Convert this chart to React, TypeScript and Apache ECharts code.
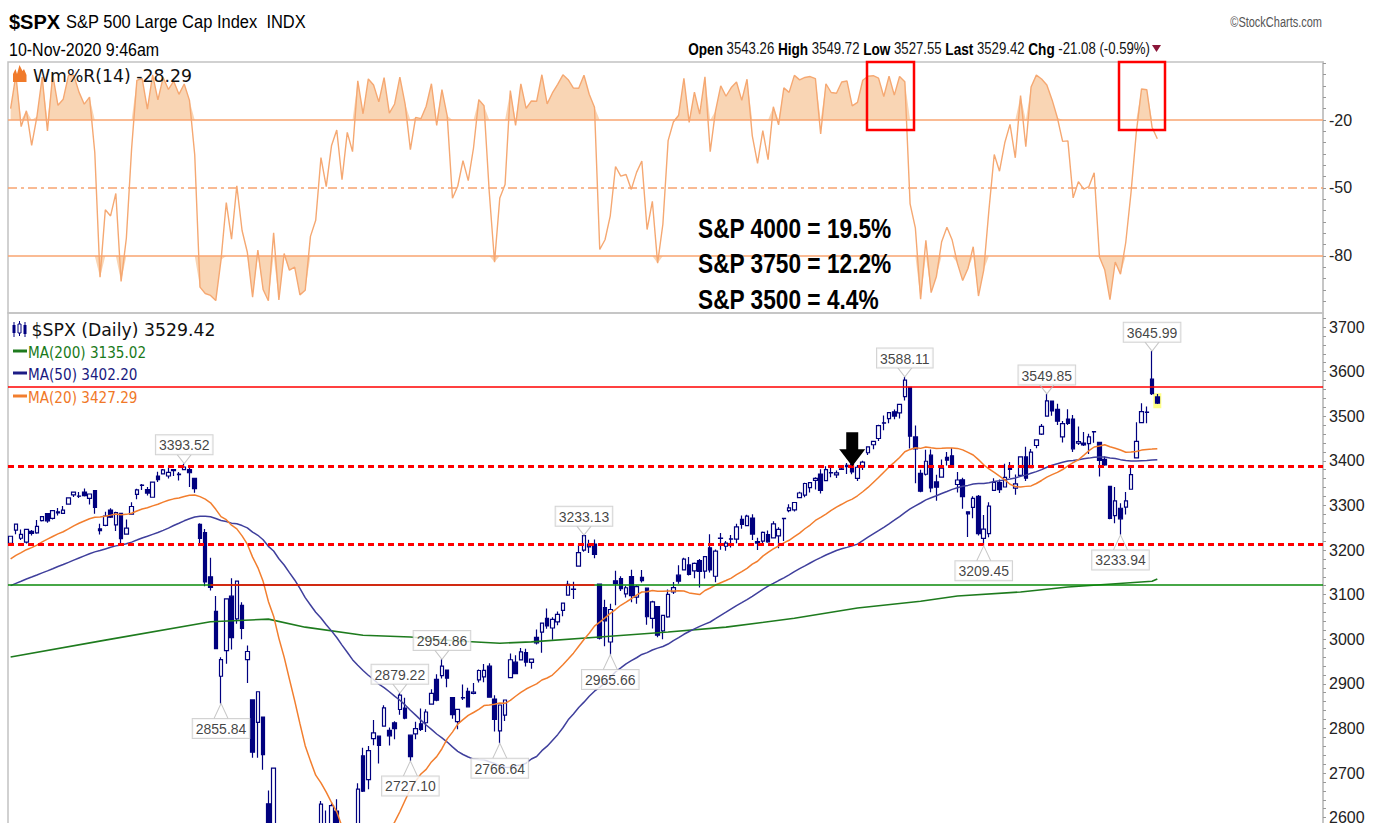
import React, { useEffect, useRef } from "react";
import * as echarts from "echarts";

// ---------- DATA ----------
// closes before the first plotted bar (2019-10-18 .. 2019-12-30), used for MA(20)/MA(50)
const preCloses = [
  2986.2, 3006.72, 2995.99, 3004.52, 3010.29, 3022.55, 3039.42, 3036.89, 3046.77, 3037.56,
  3066.91, 3078.27, 3074.62, 3076.78, 3085.18, 3093.08, 3087.01, 3091.84, 3094.04, 3096.63,
  3120.46, 3122.03, 3120.18, 3108.46, 3103.54, 3110.29, 3133.64, 3140.52, 3153.63, 3140.98,
  3113.87, 3093.2, 3112.76, 3117.43, 3145.91, 3135.96, 3132.52, 3141.63, 3168.57, 3168.8,
  3191.45, 3192.52, 3191.14, 3205.37, 3221.22, 3224.01, 3223.38, 3239.91, 3240.02, 3221.29,
];
// highs / lows of 2019-12-11 .. 2019-12-30, used for Williams %R(14)
const preHighs = [3143.98, 3176.28, 3182.68, 3197.71, 3198.22, 3198.48, 3205.48, 3225.65, 3227.78, 3226.43, 3240.08, 3247.93, 3240.92];
const preLows = [3133.21, 3138.47, 3156.51, 3183.63, 3191.03, 3191.14, 3192.32, 3216.03, 3222.3, 3220.51, 3227.2, 3234.37, 3216.57];

// [date, open, high, low, close]
const dec2019 = [["2019-12-31", 3215.18, 3231.72, 3212.03, 3230.78]];
const jan2020 = [
  ["2020-01-02", 3244.67, 3258.14, 3235.53, 3257.85],
  ["2020-01-03", 3226.36, 3246.15, 3222.34, 3234.85],
  ["2020-01-06", 3217.55, 3246.84, 3214.64, 3246.28],
  ["2020-01-07", 3241.86, 3244.91, 3232.43, 3237.18],
  ["2020-01-08", 3238.59, 3267.07, 3236.67, 3253.05],
  ["2020-01-09", 3266.03, 3275.58, 3263.67, 3274.7],
  ["2020-01-10", 3281.81, 3282.99, 3260.86, 3265.35],
  ["2020-01-13", 3271.13, 3288.13, 3268.43, 3288.13],
  ["2020-01-14", 3285.35, 3294.25, 3277.19, 3283.15],
  ["2020-01-15", 3282.27, 3298.66, 3280.69, 3289.29],
  ["2020-01-16", 3302.97, 3317.11, 3302.82, 3316.81],
  ["2020-01-17", 3323.66, 3329.88, 3318.86, 3329.62],
  ["2020-01-21", 3321.03, 3329.79, 3316.61, 3320.79],
  ["2020-01-22", 3330.02, 3337.77, 3320.04, 3321.75],
  ["2020-01-23", 3315.77, 3326.88, 3301.87, 3325.54],
  ["2020-01-24", 3333.1, 3333.18, 3281.53, 3295.47],
  ["2020-01-27", 3247.16, 3258.85, 3234.5, 3243.63],
  ["2020-01-28", 3255.35, 3285.78, 3253.22, 3276.24],
  ["2020-01-29", 3289.46, 3293.47, 3271.89, 3273.4],
  ["2020-01-30", 3256.45, 3285.91, 3242.8, 3283.66],
  ["2020-01-31", 3282.33, 3282.33, 3214.68, 3225.52],
];
const feb2020 = [
  ["2020-02-03", 3235.66, 3268.44, 3235.66, 3248.92],
  ["2020-02-04", 3280.61, 3306.92, 3280.61, 3297.59],
  ["2020-02-05", 3324.91, 3337.58, 3313.75, 3334.69],
  ["2020-02-06", 3344.92, 3347.96, 3334.39, 3345.78],
  ["2020-02-07", 3335.54, 3341.42, 3322.12, 3327.71],
  ["2020-02-10", 3318.28, 3352.26, 3317.77, 3352.09],
  ["2020-02-11", 3365.87, 3375.63, 3352.72, 3357.75],
  ["2020-02-12", 3370.5, 3381.47, 3369.72, 3379.45],
  ["2020-02-13", 3365.9, 3385.09, 3360.52, 3373.94],
  ["2020-02-14", 3378.08, 3380.69, 3366.15, 3380.16],
  ["2020-02-18", 3369.04, 3375.01, 3355.61, 3370.29],
  ["2020-02-19", 3380.39, 3393.52, 3378.83, 3386.15],
  ["2020-02-20", 3380.45, 3389.15, 3341.02, 3373.23],
  ["2020-02-21", 3360.5, 3360.76, 3328.45, 3337.75],
  ["2020-02-24", 3257.61, 3259.81, 3214.65, 3225.89],
  ["2020-02-25", 3238.94, 3246.99, 3118.77, 3128.21],
  ["2020-02-26", 3139.9, 3182.51, 3108.99, 3116.39],
  ["2020-02-27", 3062.54, 3097.07, 2977.39, 2978.76],
  ["2020-02-28", 2916.9, 2959.72, 2855.84, 2954.22],
];
const mar2020 = [
  ["2020-03-02", 2974.28, 3090.96, 2945.19, 3090.23],
  ["2020-03-03", 3096.46, 3136.72, 2976.63, 3003.37],
  ["2020-03-04", 3045.75, 3130.97, 3034.38, 3130.12],
  ["2020-03-05", 3075.7, 3083.04, 2999.83, 3023.94],
  ["2020-03-06", 2954.2, 2985.93, 2901.54, 2972.37],
  ["2020-03-09", 2863.89, 2863.89, 2734.43, 2746.56],
  ["2020-03-10", 2813.48, 2882.59, 2734.0, 2882.23],
  ["2020-03-11", 2825.6, 2825.6, 2707.22, 2741.38],
  ["2020-03-12", 2630.86, 2660.95, 2478.86, 2480.64],
  ["2020-03-13", 2569.99, 2711.33, 2492.37, 2711.02],
  ["2020-03-16", 2508.59, 2562.98, 2380.94, 2386.13],
  ["2020-03-17", 2425.66, 2553.93, 2367.04, 2529.19],
  ["2020-03-18", 2436.5, 2453.57, 2280.52, 2398.1],
  ["2020-03-19", 2393.48, 2466.97, 2319.78, 2409.39],
  ["2020-03-20", 2431.94, 2453.01, 2295.56, 2304.92],
  ["2020-03-23", 2290.71, 2300.73, 2191.86, 2237.4],
  ["2020-03-24", 2344.44, 2449.71, 2344.44, 2447.33],
  ["2020-03-25", 2457.77, 2571.42, 2407.53, 2475.56],
  ["2020-03-26", 2501.29, 2637.01, 2500.72, 2630.07],
  ["2020-03-27", 2555.87, 2615.91, 2520.02, 2541.47],
  ["2020-03-30", 2558.98, 2631.8, 2545.28, 2626.65],
  ["2020-03-31", 2614.69, 2641.39, 2571.15, 2584.59],
];
const apr2020 = [
  ["2020-04-01", 2498.08, 2522.75, 2447.49, 2470.5],
  ["2020-04-02", 2458.54, 2533.22, 2455.79, 2526.9],
  ["2020-04-03", 2514.92, 2538.18, 2459.96, 2488.65],
  ["2020-04-06", 2578.28, 2676.85, 2574.57, 2663.68],
  ["2020-04-07", 2738.65, 2756.89, 2657.67, 2659.41],
  ["2020-04-08", 2685.0, 2760.75, 2663.3, 2749.98],
  ["2020-04-09", 2776.99, 2818.57, 2762.36, 2789.82],
  ["2020-04-13", 2782.46, 2782.46, 2721.17, 2761.63],
  ["2020-04-14", 2805.1, 2851.85, 2805.1, 2846.06],
  ["2020-04-15", 2795.64, 2801.88, 2761.54, 2783.36],
  ["2020-04-16", 2812.64, 2815.83, 2775.95, 2799.55],
  ["2020-04-17", 2842.43, 2879.22, 2830.88, 2874.56],
  ["2020-04-20", 2845.62, 2868.98, 2820.43, 2823.16],
  ["2020-04-21", 2784.81, 2785.54, 2727.1, 2736.56],
  ["2020-04-22", 2787.89, 2815.1, 2775.95, 2799.31],
  ["2020-04-23", 2810.42, 2844.9, 2794.26, 2797.8],
  ["2020-04-24", 2812.64, 2842.71, 2791.76, 2836.74],
  ["2020-04-27", 2854.65, 2887.72, 2852.89, 2878.48],
  ["2020-04-28", 2909.96, 2921.15, 2860.71, 2863.39],
  ["2020-04-29", 2918.46, 2954.86, 2912.16, 2939.51],
  ["2020-04-30", 2930.91, 2930.91, 2892.47, 2912.43],
];
const may2020 = [
  ["2020-05-01", 2869.09, 2869.09, 2821.61, 2830.71],
  ["2020-05-04", 2815.01, 2844.24, 2797.85, 2842.74],
  ["2020-05-05", 2868.88, 2898.23, 2863.55, 2868.44],
  ["2020-05-06", 2883.14, 2891.11, 2847.65, 2848.42],
  ["2020-05-07", 2878.26, 2901.92, 2876.48, 2881.19],
  ["2020-05-08", 2908.83, 2932.16, 2902.88, 2929.8],
  ["2020-05-11", 2915.46, 2944.25, 2903.44, 2930.32],
  ["2020-05-12", 2939.5, 2945.82, 2869.59, 2870.12],
  ["2020-05-13", 2865.86, 2874.14, 2793.15, 2820.0],
  ["2020-05-14", 2794.54, 2852.8, 2766.64, 2852.5],
  ["2020-05-15", 2829.95, 2865.01, 2816.78, 2863.7],
  ["2020-05-18", 2913.86, 2968.09, 2913.86, 2953.91],
  ["2020-05-19", 2948.59, 2964.21, 2922.35, 2922.94],
  ["2020-05-20", 2953.63, 2980.29, 2953.63, 2971.61],
  ["2020-05-21", 2969.95, 2978.5, 2938.57, 2948.51],
  ["2020-05-22", 2948.05, 2956.76, 2933.59, 2955.45],
  ["2020-05-26", 3004.08, 3021.72, 2988.17, 2991.77],
  ["2020-05-27", 3015.65, 3036.25, 2969.75, 3036.13],
  ["2020-05-28", 3046.61, 3068.67, 3023.4, 3029.73],
  ["2020-05-29", 3025.17, 3049.17, 2998.61, 3044.31],
];
const jun2020 = [
  ["2020-06-01", 3038.78, 3062.18, 3031.54, 3055.73],
  ["2020-06-02", 3064.78, 3081.07, 3051.64, 3080.82],
  ["2020-06-03", 3098.9, 3130.94, 3098.9, 3122.87],
  ["2020-06-04", 3111.56, 3128.91, 3090.41, 3112.35],
  ["2020-06-05", 3163.84, 3211.72, 3163.84, 3193.93],
  ["2020-06-08", 3199.92, 3233.13, 3196.0, 3232.39],
  ["2020-06-09", 3213.32, 3222.71, 3193.11, 3207.18],
  ["2020-06-10", 3213.42, 3223.27, 3181.49, 3190.14],
  ["2020-06-11", 3123.53, 3123.53, 2999.49, 3002.1],
  ["2020-06-12", 3071.04, 3088.42, 2984.47, 3041.31],
  ["2020-06-15", 2993.76, 3079.76, 2965.66, 3066.59],
  ["2020-06-16", 3131.0, 3153.45, 3076.06, 3124.74],
  ["2020-06-17", 3136.13, 3141.16, 3108.03, 3113.49],
  ["2020-06-18", 3101.64, 3120.0, 3093.51, 3115.34],
  ["2020-06-19", 3140.29, 3155.53, 3083.11, 3097.74],
  ["2020-06-22", 3094.42, 3120.92, 3079.39, 3117.86],
  ["2020-06-23", 3138.7, 3154.9, 3127.12, 3131.29],
  ["2020-06-24", 3114.4, 3115.01, 3032.13, 3050.33],
  ["2020-06-25", 3046.6, 3086.25, 3024.01, 3083.76],
  ["2020-06-26", 3073.2, 3073.73, 3004.63, 3009.05],
  ["2020-06-29", 3018.59, 3053.89, 2999.74, 3053.24],
  ["2020-06-30", 3050.2, 3111.51, 3047.83, 3100.29],
];
const jul2020 = [
  ["2020-07-01", 3105.92, 3128.44, 3101.17, 3115.86],
  ["2020-07-02", 3143.64, 3165.81, 3124.52, 3130.01],
  ["2020-07-06", 3155.29, 3182.59, 3155.29, 3179.72],
  ["2020-07-07", 3166.44, 3184.15, 3142.93, 3145.32],
  ["2020-07-08", 3153.07, 3171.8, 3136.53, 3169.94],
  ["2020-07-09", 3176.17, 3179.78, 3115.7, 3152.05],
  ["2020-07-10", 3152.47, 3186.82, 3136.22, 3185.04],
  ["2020-07-13", 3205.08, 3235.32, 3149.43, 3155.22],
  ["2020-07-14", 3141.11, 3200.95, 3127.66, 3197.52],
  ["2020-07-15", 3225.98, 3238.28, 3200.76, 3226.56],
  ["2020-07-16", 3208.36, 3220.39, 3198.59, 3215.57],
  ["2020-07-17", 3224.21, 3233.52, 3205.65, 3224.73],
  ["2020-07-20", 3224.29, 3258.61, 3215.16, 3251.84],
  ["2020-07-21", 3268.52, 3277.29, 3247.77, 3257.3],
  ["2020-07-22", 3254.86, 3279.32, 3253.1, 3276.02],
  ["2020-07-23", 3271.64, 3279.99, 3222.66, 3235.66],
  ["2020-07-24", 3218.58, 3227.26, 3200.05, 3215.63],
  ["2020-07-27", 3219.84, 3241.43, 3214.25, 3239.41],
  ["2020-07-28", 3234.27, 3243.72, 3216.17, 3218.44],
  ["2020-07-29", 3227.22, 3264.74, 3227.22, 3258.44],
  ["2020-07-30", 3231.76, 3250.92, 3204.13, 3246.22],
  ["2020-07-31", 3270.45, 3272.17, 3220.26, 3271.12],
];
const aug2020 = [
  ["2020-08-03", 3288.26, 3302.73, 3284.53, 3294.61],
  ["2020-08-04", 3289.92, 3306.84, 3286.37, 3306.51],
  ["2020-08-05", 3317.37, 3330.77, 3317.37, 3327.77],
  ["2020-08-06", 3323.17, 3351.03, 3318.14, 3349.16],
  ["2020-08-07", 3340.05, 3352.54, 3328.72, 3351.28],
  ["2020-08-10", 3356.04, 3363.29, 3335.44, 3360.47],
  ["2020-08-11", 3370.34, 3381.01, 3326.44, 3333.69],
  ["2020-08-12", 3355.46, 3387.89, 3355.46, 3380.35],
  ["2020-08-13", 3372.95, 3387.24, 3363.35, 3373.43],
  ["2020-08-14", 3368.66, 3378.51, 3361.64, 3372.85],
  ["2020-08-17", 3380.86, 3387.59, 3379.22, 3381.99],
  ["2020-08-18", 3387.04, 3395.06, 3370.15, 3389.78],
  ["2020-08-19", 3392.51, 3399.54, 3369.66, 3374.85],
  ["2020-08-20", 3360.48, 3390.8, 3354.69, 3385.51],
  ["2020-08-21", 3386.01, 3399.96, 3379.31, 3397.16],
  ["2020-08-24", 3418.09, 3432.09, 3413.13, 3431.28],
  ["2020-08-25", 3435.95, 3444.21, 3425.84, 3443.62],
  ["2020-08-26", 3449.97, 3481.07, 3444.15, 3478.73],
  ["2020-08-27", 3485.14, 3501.38, 3468.35, 3484.55],
  ["2020-08-28", 3494.69, 3509.23, 3484.32, 3508.01],
  ["2020-08-31", 3509.73, 3514.77, 3493.25, 3500.31],
];
const sep2020 = [
  ["2020-09-01", 3507.44, 3528.03, 3494.6, 3526.65],
  ["2020-09-02", 3543.76, 3588.11, 3535.23, 3580.84],
  ["2020-09-03", 3564.74, 3564.85, 3427.41, 3455.06],
  ["2020-09-04", 3453.6, 3479.15, 3349.63, 3426.96],
  ["2020-09-08", 3371.88, 3379.97, 3329.27, 3331.84],
  ["2020-09-09", 3369.82, 3424.77, 3366.84, 3398.96],
  ["2020-09-10", 3412.56, 3425.55, 3329.25, 3339.19],
  ["2020-09-11", 3352.7, 3368.95, 3310.47, 3340.97],
  ["2020-09-14", 3363.56, 3402.93, 3363.56, 3383.54],
  ["2020-09-15", 3407.73, 3419.48, 3389.25, 3401.2],
  ["2020-09-16", 3411.23, 3428.92, 3384.45, 3385.49],
  ["2020-09-17", 3346.86, 3375.17, 3328.82, 3357.01],
  ["2020-09-18", 3357.38, 3362.27, 3292.4, 3319.47],
  ["2020-09-21", 3285.57, 3285.57, 3229.1, 3281.06],
  ["2020-09-22", 3295.75, 3320.31, 3270.95, 3315.57],
  ["2020-09-23", 3320.11, 3323.35, 3232.57, 3236.92],
  ["2020-09-24", 3226.14, 3278.7, 3209.45, 3246.59],
  ["2020-09-25", 3236.66, 3306.88, 3228.44, 3298.46],
  ["2020-09-28", 3333.9, 3360.74, 3332.91, 3351.6],
  ["2020-09-29", 3350.92, 3357.92, 3327.54, 3335.47],
  ["2020-09-30", 3341.21, 3393.56, 3340.47, 3363.0],
];
const oct2020 = [
  ["2020-10-01", 3385.87, 3397.18, 3361.39, 3380.8],
  ["2020-10-02", 3338.94, 3369.1, 3323.69, 3348.42],
  ["2020-10-05", 3367.27, 3409.57, 3367.27, 3408.6],
  ["2020-10-06", 3408.74, 3431.56, 3354.54, 3360.97],
  ["2020-10-07", 3384.56, 3426.26, 3384.56, 3419.44],
  ["2020-10-08", 3434.28, 3447.28, 3428.15, 3446.83],
  ["2020-10-09", 3459.67, 3482.34, 3458.07, 3477.14],
  ["2020-10-12", 3500.02, 3549.85, 3499.61, 3534.22],
  ["2020-10-13", 3534.01, 3534.01, 3500.86, 3511.93],
  ["2020-10-14", 3515.47, 3527.94, 3480.55, 3488.67],
  ["2020-10-15", 3453.72, 3489.08, 3440.89, 3483.34],
  ["2020-10-16", 3493.5, 3515.76, 3480.45, 3483.81],
  ["2020-10-19", 3493.66, 3502.42, 3419.93, 3426.92],
  ["2020-10-20", 3439.38, 3476.93, 3435.65, 3443.12],
  ["2020-10-21", 3439.91, 3464.86, 3433.06, 3435.56],
  ["2020-10-22", 3438.5, 3460.53, 3415.34, 3453.49],
  ["2020-10-23", 3464.9, 3466.46, 3440.45, 3465.39],
  ["2020-10-26", 3441.42, 3441.42, 3364.86, 3400.97],
  ["2020-10-27", 3403.15, 3409.51, 3388.71, 3390.68],
  ["2020-10-28", 3342.48, 3342.48, 3268.89, 3271.03],
  ["2020-10-29", 3277.17, 3341.05, 3259.82, 3310.11],
  ["2020-10-30", 3293.59, 3304.93, 3233.94, 3269.96],
];
const nov2020 = [
  ["2020-11-02", 3296.2, 3330.14, 3279.74, 3310.24],
  ["2020-11-03", 3336.25, 3389.49, 3336.25, 3369.16],
  ["2020-11-04", 3406.46, 3486.25, 3405.17, 3443.44],
  ["2020-11-05", 3485.74, 3529.05, 3485.74, 3510.45],
  ["2020-11-06", 3508.34, 3521.58, 3484.34, 3509.44],
  ["2020-11-09", 3583.04, 3645.99, 3547.48, 3550.5],
  ["2020-11-10", 3543.26, 3549.72, 3527.55, 3529.42],
];

// MA(200): [bar index, value]
const ma200Points = [
  [0, 2960], [18, 2998], [38, 3039], [49, 3045], [56, 3027], [67, 3009], [76, 3005],
  [85, 2996], [93, 2991], [99, 2994], [112, 3005], [125, 3016], [136, 3027], [149, 3047],
  [161, 3070], [173, 3085], [180, 3097], [192, 3106], [201, 3117], [217, 3130], [218, 3135],
];

// horizontal levels drawn on the price panel
const resistanceLevel = 3565.5;
const dottedLevels = [3388, 3213.5];
const supportLevel = 3121.5;
const supportRedSpan = [38, 111];

// annotated highs / lows (dates)
const highMarks = ["2020-02-19", "2020-04-17", "2020-04-29", "2020-06-08", "2020-09-02", "2020-10-12", "2020-11-09"];
const lowMarks = ["2020-02-28", "2020-04-21", "2020-05-14", "2020-06-15", "2020-09-24", "2020-10-30"];
const arrowDate = "2020-08-19";

// tick labels
const priceTicks = [2600, 2700, 2800, 2900, 3000, 3100, 3200, 3300, 3400, 3500, 3600, 3700];
const wrTicks = [-20, -50, -80];
const wrLevels = [-20, -50, -80];

// texts
const headerSymbol = "$SPX";
const headerName = "S&P 500 Large Cap Index  INDX";
const headerDate = "10-Nov-2020 9:46am";
const headerQuote = [["Open", "3543.26"], ["High", "3549.72"], ["Low", "3527.55"], ["Last", "3529.42"], ["Chg", "-21.08 (-0.59%)"]];
const wrLegend = "Wm%R(14) -28.29";
const spxLegend = "$SPX (Daily) 3529.42";
const maLegends = ["MA(200) 3135.02", "MA(50) 3402.20", "MA(20) 3427.29"];
const notes = ["S&P 4000 = 19.5%", "S&P 3750 = 12.2%", "S&P 3500 = 4.4%"];

// ---------- DERIVED ----------
const rows: any[] = [].concat(dec2019 as any, jan2020, feb2020, mar2020, apr2020, may2020, jun2020, jul2020, aug2020, sep2020, oct2020, nov2020);
const dates = rows.map((r) => r[0]);
const highs = rows.map((r) => r[2]);
const lows = rows.map((r) => r[3]);
const closes = rows.map((r) => r[4]);
const N = rows.length;
const SLOTS = 250;
const cats = dates.concat(Array.from({ length: SLOTS - N }, (_, k) => "pad" + k));

const allCloses = preCloses.concat(closes);
function movingAverage(n: number) {
  return closes.map((_, i) => {
    const j = i + preCloses.length;
    let s = 0;
    for (let k = j - n + 1; k <= j; k++) s += allCloses[k];
    return +(s / n).toFixed(2);
  });
}
const ma20 = movingAverage(20);
const ma50 = movingAverage(50);

const allHighs = preHighs.concat(highs);
const allLows = preLows.concat(lows);
const wr = closes.map((c, i) => {
  const j = i + preHighs.length;
  let hh = -Infinity;
  let ll = Infinity;
  for (let k = j - 13; k <= j; k++) {
    hh = Math.max(hh, allHighs[k]);
    ll = Math.min(ll, allLows[k]);
  }
  return +(((hh - c) / (hh - ll)) * -100).toFixed(2);
});
const hiBase = wr.map(() => -20);
const hiFill = wr.map((v) => Math.max(v + 20, 0));
const loBase = wr.map(() => -80);
const loFill = wr.map((v) => Math.min(v + 80, 0));

const idxOf = (d: string) => dates.indexOf(d);

// ---------- LAYOUT ----------
const PX_LEFT = 8;
const PX_WIDTH = 1315;
const NAVY = "#00007f";
const WR_LINE = "#f5a872";
const WR_FILL = "#f9d5b4";

function txt(x: number, y: number, text: string, o: any = {}) {
  return {
    type: "text",
    x,
    y,
    z: 100,
    scaleY: o.scaleY || 1,
    silent: true,
    style: {
      text,
      fontFamily: o.family || "Liberation Sans",
      fontSize: o.size || 14,
      fontWeight: o.weight || "normal",
      fill: o.color || "#000",
      align: o.align || "left",
      verticalAlign: "middle",
      rich: o.rich,
    },
  };
}

function buildOption() {
  const last = N - 1;
  const quoteText = headerQuote.map(([k, v]) => `{b|${k}} {n|${v}}`).join(" ");
  const graphics: any[] = [
    txt(9, 22, headerSymbol, { size: 20, weight: "bold" }),
    txt(66, 22, headerName, { size: 16.5, scaleY: 1.12 }),
    txt(9, 50, headerDate, { size: 16, scaleY: 1.12 }),
    txt(1150, 48.5, quoteText, {
      size: 13.2,
      align: "right",
      scaleY: 1.22,
      rich: {
        b: { fontWeight: "bold", fontSize: 13.6, fontFamily: "Liberation Sans", fill: "#000" },
        n: { fontSize: 13.2, fontFamily: "Liberation Sans", fill: "#111" },
      },
    }),
    { type: "polygon", z: 100, silent: true, shape: { points: [[1152, 45], [1161, 45], [1156.5, 52]] }, style: { fill: "#8b1538" } },
    txt(1322, 22, "©StockCharts.com", { size: 11, align: "right", color: "#555", scaleY: 1.35 }),
    // %R icon + legend
    {
      type: "polygon", z: 100, silent: true,
      shape: { points: [[13, 82], [13, 74], [15.5, 69], [17, 74], [19.5, 65], [22.5, 71], [24, 69], [26.5, 75], [26.5, 82]] },
      style: { fill: "#f07a2a" },
    },
    txt(33, 76, wrLegend, { family: "DejaVu Sans", size: 17.3, color: "#111" }),
    // notes
    ...notes.map((t, i) => txt(698, 228 + i * 35.5, t, { size: 22.7, weight: "bold", scaleY: 1.22, color: "#000" })),
    // red boxes
    { type: "rect", z: 100, silent: true, shape: { x: 867, y: 62, width: 47, height: 68 }, style: { fill: "none", stroke: "#ff0000", lineWidth: 2.5 } },
    { type: "rect", z: 100, silent: true, shape: { x: 1119, y: 62, width: 46, height: 68 }, style: { fill: "none", stroke: "#ff0000", lineWidth: 2.5 } },
    // price legend icon
    { type: "line", z: 100, silent: true, shape: { x1: 14, y1: 322, x2: 14, y2: 337 }, style: { stroke: NAVY, lineWidth: 1 } },
    { type: "rect", z: 100, silent: true, shape: { x: 12.5, y: 325, width: 3, height: 8 }, style: { fill: NAVY } },
    { type: "line", z: 100, silent: true, shape: { x1: 19.5, y1: 321, x2: 19.5, y2: 336 }, style: { stroke: NAVY, lineWidth: 1 } },
    { type: "rect", z: 100, silent: true, shape: { x: 18, y: 324, width: 3, height: 9 }, style: { fill: "#fff", stroke: NAVY, lineWidth: 1 } },
    { type: "line", z: 100, silent: true, shape: { x1: 25, y1: 322, x2: 25, y2: 337 }, style: { stroke: NAVY, lineWidth: 1 } },
    { type: "rect", z: 100, silent: true, shape: { x: 23.5, y: 325, width: 3, height: 9 }, style: { fill: NAVY } },
    txt(31.5, 329.5, spxLegend, { family: "DejaVu Sans", size: 17.3, color: "#111" }),
  ];
  const maColors = ["#1e7b1e", "#1c1c86", "#f27e2e"];
  const maTextColors = ["#1a7a1a", "#1a1a80", "#f07828"];
  maLegends.forEach((t, i) => {
    const y = [351, 373, 396][i];
    graphics.push({ type: "rect", z: 100, silent: true, shape: { x: 13, y: y - 1.5, width: 14, height: 3 }, style: { fill: maColors[i] } });
    graphics.push(txt(28, y + 1.5, t, { family: "DejaVu Sans", size: 13.6, color: maTextColors[i], scaleY: 1.2 }));
  });

  const labelCommon = {
    show: true,
    distance: 0,
    formatter: (p: any) => Number(p.value[1]).toFixed(2),
    backgroundColor: "#fff",
    borderColor: "#c8c8c8",
    borderWidth: 1,
    padding: [3, 3, 2, 3],
    color: "#111",
    fontFamily: "Liberation Sans",
    fontSize: 14,
  };

  return {
    animation: false,
    backgroundColor: "#ffffff",
    grid: [
      { left: PX_LEFT, top: 62, width: PX_WIDTH, height: 251, show: true, borderColor: "#c2c2c2", borderWidth: 1.5, backgroundColor: "transparent" },
      { left: PX_LEFT, top: 313, width: PX_WIDTH, height: 593.8, show: true, borderColor: "#c2c2c2", borderWidth: 1.5, backgroundColor: "transparent" },
    ],
    xAxis: [
      { type: "category", gridIndex: 0, data: cats, boundaryGap: true, show: false },
      { type: "category", gridIndex: 1, data: cats, boundaryGap: true, show: false },
    ],
    yAxis: [
      {
        type: "value", gridIndex: 0, position: "right", min: -105.15, max: 5.59,
        splitLine: { show: false },
        axisLine: { show: true, lineStyle: { color: "#c2c2c2", width: 1.5 } },
        axisTick: { show: true, length: 3, customValues: Array.from({ length: 22 }, (_, k) => -100 + k * 5), lineStyle: { color: "#999" } },
        axisLabel: { customValues: wrTicks, formatter: (v: number) => String(v), fontFamily: "Liberation Sans", fontSize: 16, color: "#222", margin: 6 },
      },
      {
        type: "value", gridIndex: 1, position: "right", min: 2400, max: 3731.4,
        splitLine: { show: false },
        axisLine: { show: true, lineStyle: { color: "#c2c2c2", width: 1.5 } },
        axisTick: { show: true, length: 3, customValues: Array.from({ length: 57 }, (_, k) => 2600 + k * 20), lineStyle: { color: "#999" } },
        axisLabel: { customValues: priceTicks, formatter: (v: number) => String(v), fontFamily: "Liberation Sans", fontSize: 16, color: "#222", margin: 6 },
      },
    ],
    series: [
      { name: "hiBase", type: "line", xAxisIndex: 0, yAxisIndex: 0, data: hiBase, stack: "hi", stackStrategy: "all", symbol: "none", lineStyle: { opacity: 0 }, silent: true, z: 1 },
      { name: "hiFill", type: "line", xAxisIndex: 0, yAxisIndex: 0, data: hiFill, stack: "hi", stackStrategy: "all", symbol: "none", lineStyle: { opacity: 0 }, areaStyle: { color: WR_FILL, opacity: 1 }, silent: true, z: 1 },
      { name: "loBase", type: "line", xAxisIndex: 0, yAxisIndex: 0, data: loBase, stack: "lo", stackStrategy: "all", symbol: "none", lineStyle: { opacity: 0 }, silent: true, z: 1 },
      { name: "loFill", type: "line", xAxisIndex: 0, yAxisIndex: 0, data: loFill, stack: "lo", stackStrategy: "all", symbol: "none", lineStyle: { opacity: 0 }, areaStyle: { color: WR_FILL, opacity: 1 }, silent: true, z: 1 },
      {
        name: "Wm%R", type: "line", xAxisIndex: 0, yAxisIndex: 0, data: wr, symbol: "none", silent: true, z: 3,
        lineStyle: { color: WR_LINE, width: 1.4 },
        markLine: {
          silent: true, symbol: ["none", "none"], label: { show: false },
          lineStyle: { color: "#f8a470", width: 1.5, type: "solid" },
          data: wrLevels.map((v) => ({ yAxis: v, lineStyle: { color: "#f8a470", width: 1.5, type: v === -50 ? [9, 4, 3, 4] : "solid" } })),
        },
      },
      {
        name: "lastHighlight", type: "scatter", xAxisIndex: 1, yAxisIndex: 1, silent: true, z: 1,
        data: [[last, (highs[last] + lows[last]) / 2 - 4]], symbol: "rect", symbolSize: [8, 15], itemStyle: { color: "#ffff66" },
      },
      {
        name: "$SPX", type: "candlestick", xAxisIndex: 1, yAxisIndex: 1, silent: true, z: 2,
        data: rows.map((r) => [r[1], r[4], r[3], r[2]]),
        barWidth: 4,
        itemStyle: { color: "#ffffff", color0: NAVY, borderColor: NAVY, borderColor0: NAVY, borderWidth: 1.2 },
        markLine: {
          silent: true, symbol: ["none", "none"], label: { show: false },
          data: [
            { yAxis: resistanceLevel, lineStyle: { color: "#ff0000", width: 1.5, type: "solid" } },
            ...dottedLevels.map((v) => ({ yAxis: v, lineStyle: { color: "#ff0000", width: 3, type: [6, 4] } })),
            { yAxis: supportLevel, lineStyle: { color: "#0a8a0a", width: 1.5, type: "solid" } },
            [
              { coord: [supportRedSpan[0], supportLevel], lineStyle: { color: "#ff0000", width: 1.5, type: "solid" } },
              { coord: [supportRedSpan[1], supportLevel] },
            ],
          ],
        },
        markPoint: {
          silent: true,
          label: { show: false },
          data: [
            {
              coord: [idxOf(arrowDate), dottedLevels[0]],
              symbol: "path://M7,0H19V17H26L13,34L0,17H7Z",
              symbolSize: [26, 34],
              symbolOffset: [0, -17],
              itemStyle: { color: "#000" },
            },
          ],
        },
      },
      { name: "MA(200)", type: "line", xAxisIndex: 1, yAxisIndex: 1, data: ma200Points, symbol: "none", silent: true, z: 3, lineStyle: { color: maColors[0], width: 1.6 } },
      { name: "MA(50)", type: "line", xAxisIndex: 1, yAxisIndex: 1, data: ma50, symbol: "none", silent: true, z: 3, lineStyle: { color: "#3f3f9c", width: 1.5 } },
      { name: "MA(20)", type: "line", xAxisIndex: 1, yAxisIndex: 1, data: ma20, symbol: "none", silent: true, z: 3, lineStyle: { color: maColors[2], width: 1.5 } },
      {
        name: "highLabels", type: "scatter", xAxisIndex: 1, yAxisIndex: 1, silent: true, z: 6,
        data: highMarks.map((d) => [idxOf(d), highs[idxOf(d)]]),
        symbol: "path://M0,0L7,9L14,0", symbolSize: [14, 9], symbolOffset: [0, -4.5],
        itemStyle: { color: "rgba(0,0,0,0)", borderColor: "#b8b8b8", borderWidth: 1 },
        label: { ...labelCommon, position: "top" },
      },
      {
        name: "lowLabels", type: "scatter", xAxisIndex: 1, yAxisIndex: 1, silent: true, z: 6,
        data: lowMarks.map((d) => [idxOf(d), lows[idxOf(d)]]),
        symbol: "path://M0,15L7,0L14,15", symbolSize: [14, 15], symbolOffset: [0, 7.5],
        itemStyle: { color: "rgba(0,0,0,0)", borderColor: "#b8b8b8", borderWidth: 1 },
        label: { ...labelCommon, position: "bottom" },
      },
    ],
    graphic: { elements: graphics },
  };
}

export default function App() {
  const ref = useRef<HTMLDivElement>(null);
  useEffect(() => {
    const chart = echarts.init(ref.current as HTMLDivElement, undefined, { renderer: "svg" });
    chart.setOption(buildOption() as any);
    return () => chart.dispose();
  }, []);
  return (
    <div style={{ position: "fixed", left: 0, top: 0, width: 1379, height: 823, overflow: "hidden", background: "#fff" }}>
      <div ref={ref} style={{ width: 1379, height: 1000 }} />
    </div>
  );
}
